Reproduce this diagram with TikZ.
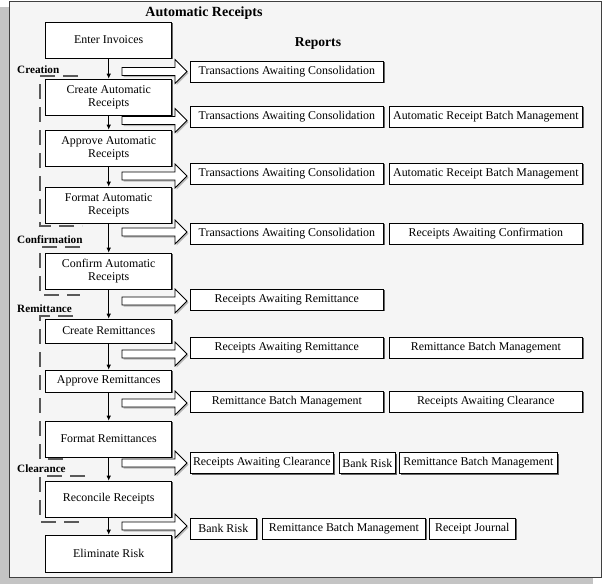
\documentclass[tikz,border=0pt]{standalone}
\usepackage{fontspec}
\setmainfont{Liberation Serif}
\usetikzlibrary{shadows,arrows.meta}
\definecolor{bggray}{HTML}{F5F5F5}
\definecolor{shadgray}{HTML}{C4C4C4}
\begin{document}
\begin{tikzpicture}[x=1pt,y=-1pt,
  txt/.style={font=\fontsize{11.9}{13}\selectfont},
  pbox/.style={draw, fill=white, line width=0.7pt, minimum width=126pt, minimum height=36pt,
    align=center, inner sep=1pt, txt,
    drop shadow={shadow xshift=1.2pt, shadow yshift=-1.2pt, fill=black!60, opacity=1}},
  rbox/.style={draw, fill=white, line width=0.7pt, minimum height=21pt, inner sep=2pt, txt,
    anchor=west, drop shadow={shadow xshift=1.2pt, shadow yshift=-1.2pt, fill=black!60, opacity=1}},
  phase/.style={font=\bfseries\fontsize{11.2}{13}\selectfont, anchor=west, inner sep=0pt},
  bracket/.style={draw=black!65, line width=1.3pt, dash pattern=on 15pt off 8pt},
  flow/.style={line width=0.7pt, -{Latex[length=5pt,width=4.5pt]}},
  barrow/.style={draw, fill=white, line width=0.8pt}
]
\useasboundingbox (0,0) rectangle (602,584);
% frame
\fill[shadgray] (0,7) rectangle (593,584);
\draw[fill=bggray, draw=black!75, line width=1pt] (9.5,1.5) rectangle (601,577.5);

% titles
\node[font=\bfseries\fontsize{14}{16}\selectfont] (title) at (204,13) {Automatic Receipts};
\node[font=\bfseries\fontsize{13.6}{16}\selectfont] (reports) at (318,43) {Reports};

% phase brackets
\draw[bracket] (78,76) -- (40,76) -- (40,226) -- (82,226);
\draw[bracket] (80,247) -- (40,247) -- (40,295) -- (80,295);
\draw[bracket] (73,316) -- (40,316) -- (40,459) -- (70,459);
\draw[bracket] (85,476) -- (40,476) -- (40,522) -- (85,522);

\node[phase] (creation) at (17,69.5) {Creation};
\node[phase] (confirmation) at (17,240) {Confirmation};
\node[phase] (remittance) at (17,309) {Remittance};
\node[phase] (clearance) at (17,468.5) {Clearance};

% process boxes
\node[pbox] (enter) at (108.7,40) {Enter Invoices};
\node[pbox] (create) at (108.7,97) {Create Automatic\\Receipts};
\node[pbox] (approve) at (108.7,148) {Approve Automatic\\Receipts};
\node[pbox] (format) at (108.7,205) {Format Automatic\\Receipts};
\node[pbox] (confirm) at (108.7,271) {Confirm Automatic\\Receipts};
\node[pbox, minimum height=24pt] (createrem) at (108.7,331) {Create Remittances};
\node[pbox, minimum height=22pt] (approverem) at (108.7,381) {Approve Remittances};
\node[pbox] (formatrem) at (108.7,439) {Format Remittances};
\node[pbox] (reconcile) at (108.7,499) {Reconcile Receipts};
\node[pbox, minimum height=37pt] (elim) at (108.7,553.5) {Eliminate Risk};

% flow arrows
\draw[flow] (enter) -- (create);
\draw[flow] (create) -- (approve);
\draw[flow] (approve) -- (format);
\draw[flow] (format) -- (confirm);
\draw[flow] (confirm) -- (createrem);
\draw[flow] (createrem) -- (approverem);
\draw[flow] (approverem) -- (formatrem);
\draw[flow] (formatrem) -- (reconcile);
\draw[flow] (reconcile) -- (elim);

% block arrows
\foreach \yy in {71.5,120.5,176,232,301,354,403,463,526} {
  \fill[black!28] (123.5,\yy-2.5) -- (176.5,\yy-2.5) -- (176.5,\yy-10.5) -- (188.5,\yy+1.5) -- (176.5,\yy+13.5) -- (176.5,\yy+5.5) -- (123.5,\yy+5.5) -- cycle;
  \draw[barrow] (122,\yy-4) -- (175,\yy-4) -- (175,\yy-12) -- (187,\yy) -- (175,\yy+12) -- (175,\yy+4) -- (122,\yy+4) -- cycle;
}

% report boxes
\node[rbox, minimum width=193pt] (r1a) at (190,71.5) {Transactions Awaiting Consolidation};
\node[rbox, minimum width=193pt] (r2a) at (190,116.5) {Transactions Awaiting Consolidation};
\node[rbox, minimum width=193pt] (r2b) at (389,116.5) {Automatic Receipt Batch Management};
\node[rbox, minimum width=193pt] (r3a) at (190,173.5) {Transactions Awaiting Consolidation};
\node[rbox, minimum width=193pt] (r3b) at (389,173.5) {Automatic Receipt Batch Management};
\node[rbox, minimum width=193pt] (r4a) at (190,233.5) {Transactions Awaiting Consolidation};
\node[rbox, minimum width=193pt] (r4b) at (389,233.5) {Receipts Awaiting Confirmation};
\node[rbox, minimum width=193pt] (r5a) at (190,299.5) {Receipts Awaiting Remittance};
\node[rbox, minimum width=193pt] (r6a) at (190,347.5) {Receipts Awaiting Remittance};
\node[rbox, minimum width=193pt] (r6b) at (389,347.5) {Remittance Batch Management};
\node[rbox, minimum width=193pt] (r7a) at (190,401.5) {Remittance Batch Management};
\node[rbox, minimum width=193pt] (r7b) at (389,401.5) {Receipts Awaiting Clearance};
\node[rbox, minimum width=143pt] (r8a) at (190,463) {Receipts Awaiting Clearance};
\node[rbox, minimum width=56pt] (r8b) at (339,463) {Bank Risk};
\node[rbox, minimum width=158pt] (r8c) at (399,463) {Remittance Batch Management};
\node[rbox, minimum width=66pt] (r9a) at (190,528.5) {Bank Risk};
\node[rbox, minimum width=163pt] (r9b) at (262,528.5) {Remittance Batch Management};
\node[rbox, minimum width=86pt] (r9c) at (429,528.5) {Receipt Journal};
\end{tikzpicture}
\end{document}
